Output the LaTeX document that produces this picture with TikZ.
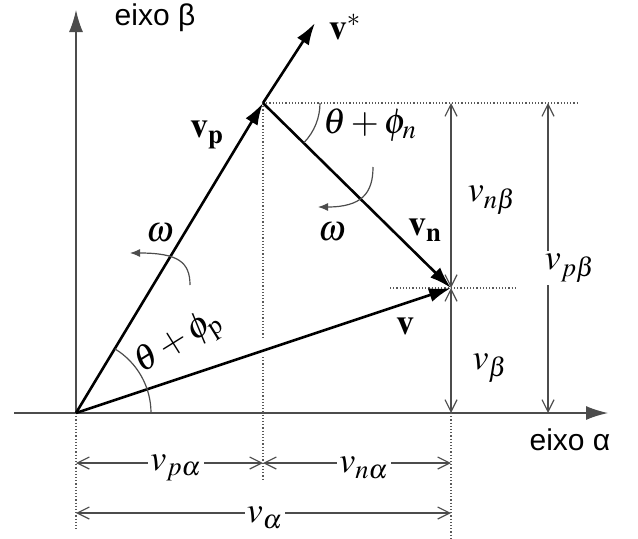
\documentclass[tikz,border=0pt]{standalone}
\usepackage{mathptmx}
\usepackage{fontspec}
\setmainfont{Liberation Serif}
\newfontfamily\axisfont{Liberation Sans}
\usetikzlibrary{arrows.meta}

\begin{document}
\begin{tikzpicture}[x=0.5pt, y=0.5pt,
    vec/.style={line width=1.3pt, -{Latex[length=11pt,width=7pt]}},
    dim/.style={black!70, line width=0.6pt,
        {Straight Barb[length=6pt,width=6pt]}-{Straight Barb[length=6pt,width=6pt]}},
    guide/.style={black!65, densely dotted, line width=0.6pt},
    axis/.style={black!70, line width=0.7pt, -{Latex[length=11pt,width=7pt]}},
    spin/.style={black!70, line width=0.6pt, -{Latex[length=5pt,width=4pt]}},
    lbl/.style={font=\fontsize{18}{20}\selectfont, inner sep=1pt},
    axlbl/.style={font=\axisfont\fontsize{15}{18}\selectfont}]

    \useasboundingbox (0,0) rectangle (638,538);

    % 1. Main points of the phasor triangle
    \coordinate (O) at (76,125);
    \coordinate (P) at (263,435);
    \coordinate (S) at (315,515);
    \coordinate (N) at (451,250);
    \coordinate (R) at (548,435);
    \coordinate (L1) at (0,75);
    \coordinate (L2) at (0,25);

    % 2. Axes
    \coordinate (Astart) at (14,125);
    \coordinate (Aend) at (608,125);
    \coordinate (Bend) at (76,528);
    \draw[axis] (Astart) -- (Aend);
    \draw[axis] (O) -- (Bend);
    \node[axlbl] (ebeta) at (155,520) {eixo β};
    \node[axlbl] (ealpha) at (570,98) {eixo α};

    % 3. Dotted projection lines
    \draw[guide] (P) -- (578,435);
    \draw[guide] (P) -- (263,200);
    \draw[guide] (263,181) -- (263,57);
    \draw[guide] (390,250) -- (515,250);
    \draw[guide] (O) -- (76,7);
    \draw[guide] (N |- O) -- (451,0);

    % 4. Component dimensions
    \draw[dim] (P -| N) -- (N);
    \draw[dim] (N) -- (N |- O);
    \draw[dim] (R) -- (R |- O);
    \draw[dim] (O |- L1) -- (P |- L1);
    \draw[dim] (P |- L1) -- (N |- L1);
    \draw[dim] (O |- L2) -- (N |- L2);

    \node[lbl] (vnb) at (492,338) {$v_{n\beta}$};
    \node[lbl, fill=white] (vpb) at (570,270) {$v_{p\beta}$};
    \node[lbl] (vb) at (490,170) {$v_{\beta}$};
    \node[lbl, fill=white] (vpa) at (176,70) {$v_{p\alpha}$};
    \node[lbl, fill=white] (vna) at (364,70) {$v_{n\alpha}$};
    \node[lbl, fill=white] (va) at (265,20) {$v_{\alpha}$};

    % 5. Vectors
    \draw[vec] (O) -- (P);
    \draw[vec] (P) -- (S);
    \draw[vec] (O) -- (N);
    \draw[vec] (P) -- (N);

    \node[lbl] (vstar) at (345,511) {$\mathbf{v}^{*}$};
    \node[lbl] (vp) at (207,403) {$\mathbf{v}_{\mathbf{p}}$};
    \node[lbl] (vn) at (425,308) {$\mathbf{v}_{\mathbf{n}}$};
    \node[lbl] (v) at (405,212) {$\mathbf{v}$};

    % 6. Angles and rotation
    \draw[black!70, line width=0.6pt] (151,125) arc[start angle=0, end angle=58.8, radius=75];
    \draw[black!70, line width=0.6pt] (320,435) arc[start angle=0, end angle=-44, radius=57];
    \node[lbl] (thp) at (179,195) [rotate=32] {$\theta+\phi_{\mathrm{p}}$};
    \node[lbl] (thn) at (370,413) {$\theta+\phi_{n}$};

    \draw[spin] (190,253) .. controls (190,276) and (178,285) .. (130,285);
    \draw[spin] (373,371) .. controls (373,345) and (362,331) .. (318,331);
    \node[lbl] (w1) at (160,305) {$\omega$};
    \node[lbl] (w2) at (332,306) {$\omega$};
\end{tikzpicture}
\end{document}
